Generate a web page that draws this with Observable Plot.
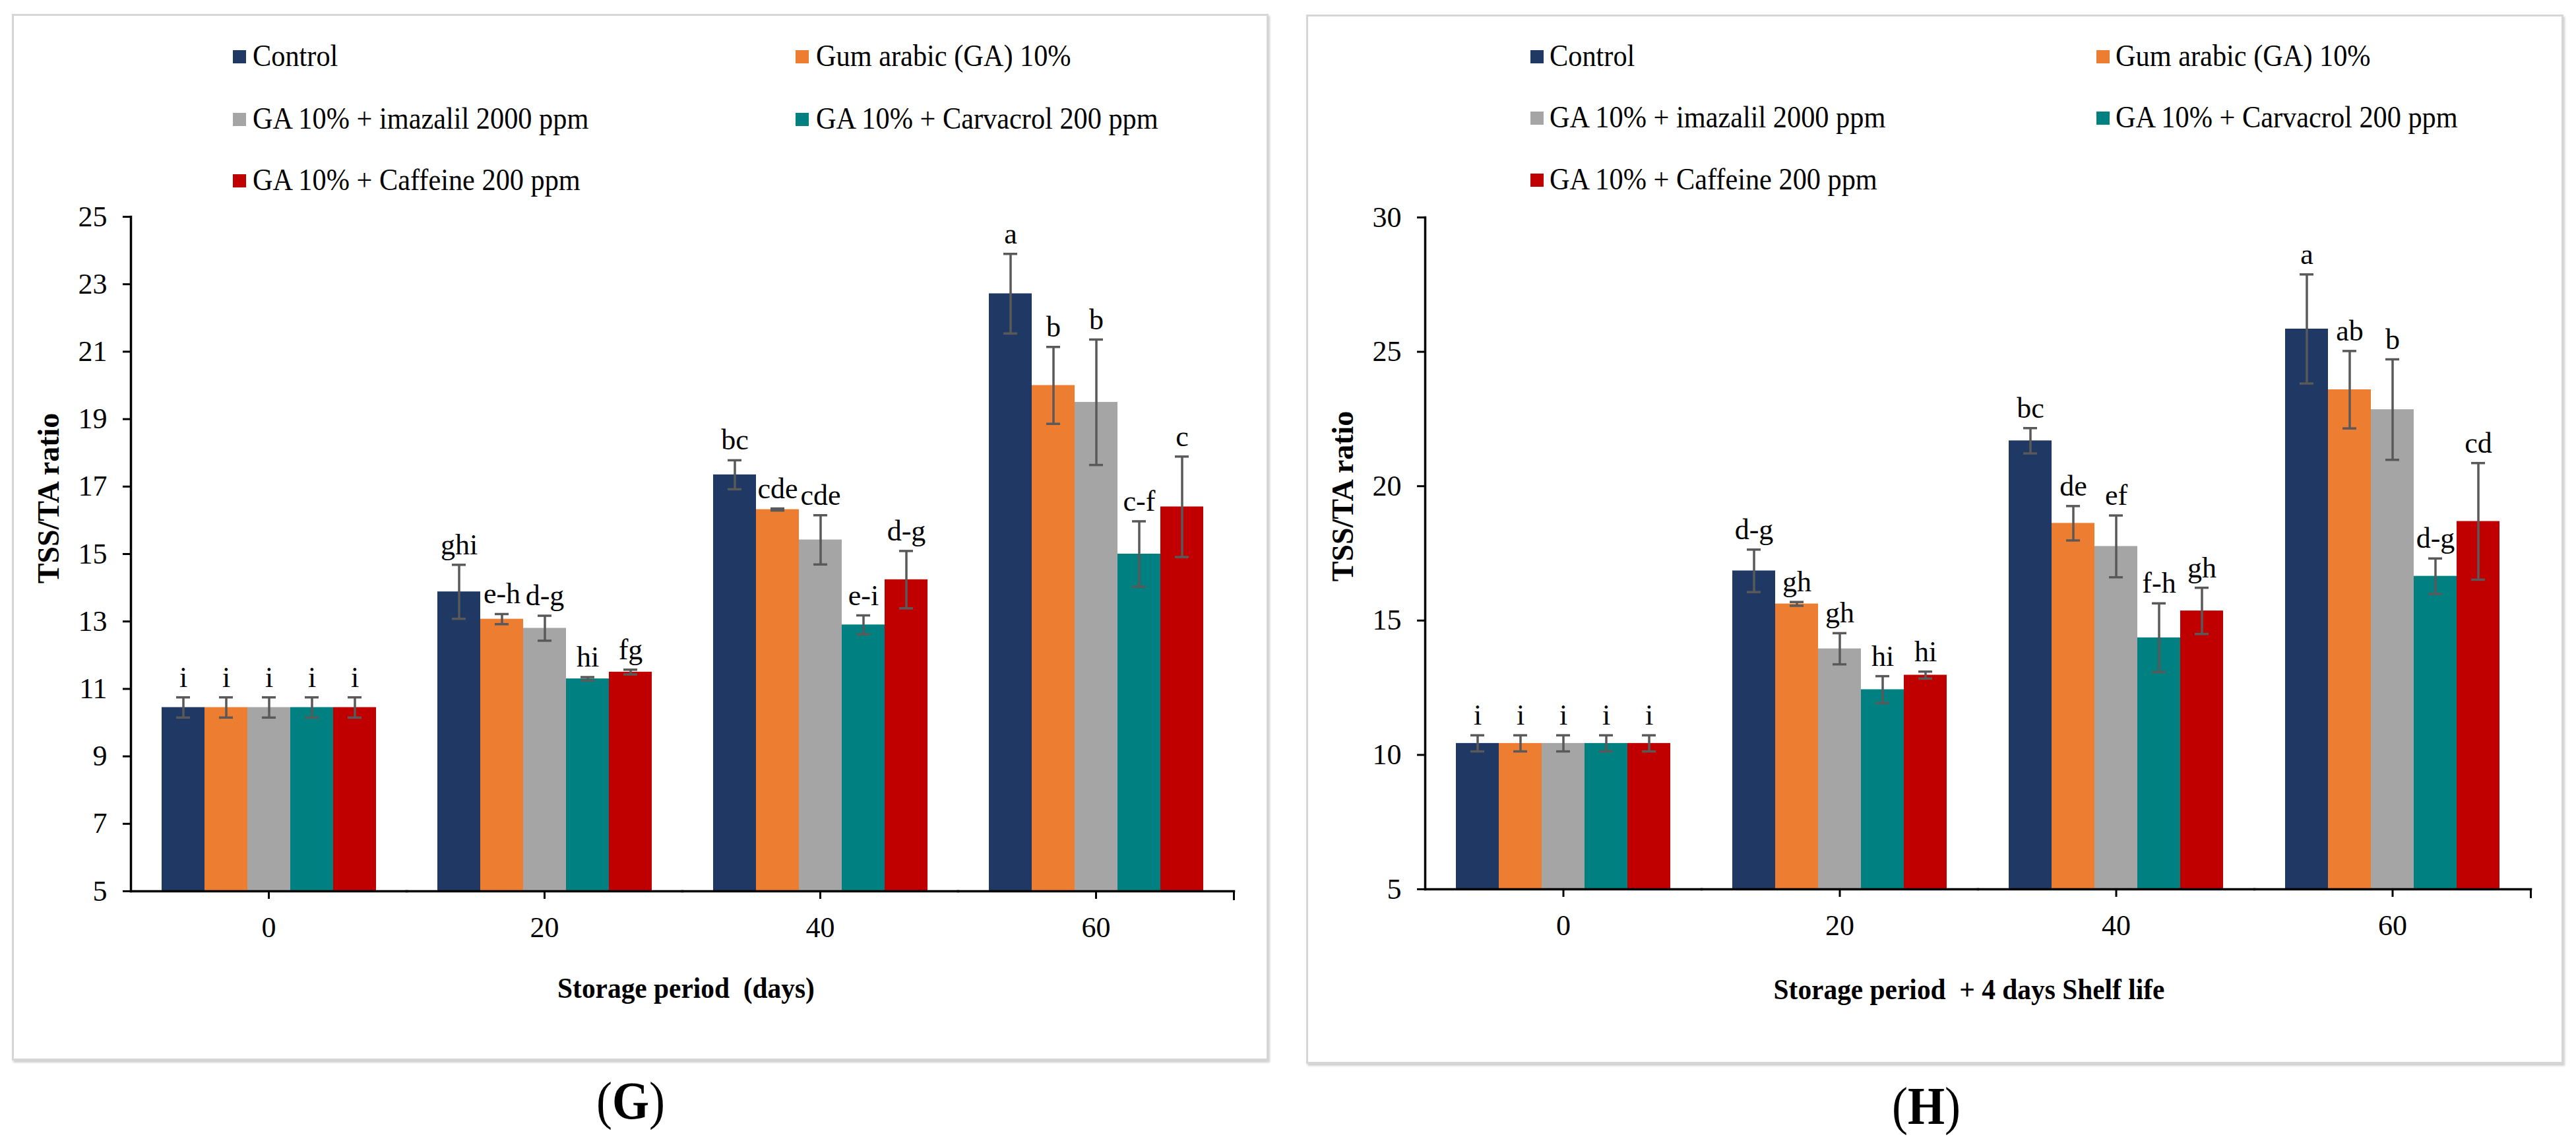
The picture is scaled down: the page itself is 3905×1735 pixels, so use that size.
<!DOCTYPE html>
<html>
<head>
<meta charset="utf-8">
<script src="https://cdn.jsdelivr.net/npm/d3@7"></script>
<script src="https://cdn.jsdelivr.net/npm/@observablehq/plot@0.6"></script>
<style>
  html, body { margin: 0; padding: 0; background: #fff; }
  body { width: 3905px; height: 1735px; position: relative; overflow: hidden; font-family: "Liberation Serif", "Times New Roman", serif; color: #000; }
  .panel { position: absolute; border: 3px solid #d6d6d6; box-shadow: 2px 3px 3px #d0d0d0; box-sizing: border-box; }
  .sw { position: absolute; width: 20px; height: 20px; }
  .lt { position: absolute; font-size: 46px; line-height: 46px; transform: scaleX(0.92); transform-origin: left center; white-space: pre; }
  .ylab { position: absolute; font-size: 46px; font-weight: bold; white-space: pre; transform: translate(-50%, -50%) rotate(-90deg); }
  .xlab { position: absolute; font-size: 45px; font-weight: bold; white-space: pre; transform: translate(-50%, -50%) scaleX(0.92); }
  .cap { position: absolute; font-size: 80px; white-space: pre; transform: translate(-50%, -50%) scaleX(0.9); }
  .plot { position: absolute; }
</style>
</head>
<body>
<div id="root"></div>
<script>
// ---------- data ----------
const treatments = [
  "Control",
  "Gum arabic (GA) 10%",
  "GA 10% + imazalil 2000 ppm",
  "GA 10% + Carvacrol 200 ppm",
  "GA 10% + Caffeine 200 ppm"
];
const colors = ["#203864", "#ED7D31", "#A5A5A5", "#008080", "#C00000"];
const days = ["0", "20", "40", "60"];

// Panel G: storage period (days)
const gControl   = [10.45, 13.88, 17.35, 22.72];
const gGA        = [10.45, 13.07, 16.32, 20.00];
const gImazalil  = [10.45, 12.80, 15.42, 19.50];
const gCarvacrol = [10.45, 11.30, 12.90, 15.00];
const gCaffeine  = [10.45, 11.50, 14.24, 16.40];
const gSdControl   = [0.30, 0.80, 0.43, 1.18];
const gSdGA        = [0.30, 0.15, 0.03, 1.14];
const gSdImazalil  = [0.30, 0.37, 0.73, 1.86];
const gSdCarvacrol = [0.30, 0.05, 0.28, 0.97];
const gSdCaffeine  = [0.30, 0.07, 0.85, 1.49];
const gLetControl   = ["i", "ghi", "bc", "a"];
const gLetGA        = ["i", "e-h", "cde", "b"];
const gLetImazalil  = ["i", "d-g", "cde", "b"];
const gLetCarvacrol = ["i", "hi", "e-i", "c-f"];
const gLetCaffeine  = ["i", "fg", "d-g", "c"];
const gTicks = [5, 7, 9, 11, 13, 15, 17, 19, 21, 23, 25];

// Panel H: storage period + 4 days shelf life
const hControl   = [10.43, 16.85, 21.69, 25.85];
const hGA        = [10.43, 15.62, 18.62, 23.59];
const hImazalil  = [10.43, 13.95, 17.76, 22.85];
const hCarvacrol = [10.43, 12.43, 14.36, 16.65];
const hCaffeine  = [10.43, 12.97, 15.36, 18.69];
const hSdControl   = [0.30, 0.79, 0.47, 2.03];
const hSdGA        = [0.30, 0.07, 0.64, 1.44];
const hSdImazalil  = [0.30, 0.58, 1.15, 1.87];
const hSdCarvacrol = [0.30, 0.50, 1.28, 0.66];
const hSdCaffeine  = [0.30, 0.13, 0.86, 2.17];
const hLetControl   = ["i", "d-g", "bc", "a"];
const hLetGA        = ["i", "gh", "de", "ab"];
const hLetImazalil  = ["i", "gh", "ef", "b"];
const hLetCarvacrol = ["i", "hi", "f-h", "d-g"];
const hLetCaffeine  = ["i", "hi", "gh", "cd"];
const hTicks = [5, 10, 15, 20, 25, 30];

// ---------- helpers ----------
function rowsFor(means, sds, lets) {
  const rows = [];
  treatments.forEach((t, ti) => days.forEach((d, di) => rows.push({
    day: d, treatment: t, mean: means[ti][di], sd: sds[ti][di], letter: lets[ti][di]
  })));
  return rows;
}

function makePlot({rows, yDomain, yTicks, width, height, marginTop, marginLeft}) {
  const err = "#595959";
  const marginBottom = 80, marginRight = 30;
  const innerH = height - marginTop - marginBottom;
  return Plot.plot({
    width, height, marginTop, marginLeft, marginRight, marginBottom,
    style: {fontFamily: "Liberation Serif, Times New Roman, serif", fontSize: "44px", background: "transparent", color: "#000", overflow: "visible"},
    fx: {domain: days, paddingInner: 0, paddingOuter: 0, axis: null, label: null},
    x: {domain: treatments, paddingInner: 0, paddingOuter: 0.705, axis: null, label: null},
    y: {domain: yDomain, axis: null, label: null},
    color: {domain: treatments, range: colors},
    marks: [
      Plot.barY(rows, {fx: "day", x: "treatment", y1: yDomain[0], y2: "mean", fill: "treatment"}),
      Plot.ruleX(rows, {fx: "day", x: "treatment", y1: d => d.mean - d.sd, y2: d => d.mean + d.sd, stroke: err, strokeWidth: 3.5}),
      Plot.tickY(rows, {fx: "day", x: "treatment", y: d => d.mean + d.sd, stroke: err, strokeWidth: 3.5, inset: 22}),
      Plot.tickY(rows, {fx: "day", x: "treatment", y: d => d.mean - d.sd, stroke: err, strokeWidth: 3.5, inset: 22}),
      Plot.text(rows, {fx: "day", x: "treatment", y: d => d.mean + d.sd, text: "letter", dy: -16, lineAnchor: "bottom", fontSize: 44, fill: "#000"}),
      Plot.frame({anchor: "bottom", stroke: "#000", strokeWidth: 3.5}),
      Plot.frame({anchor: "left", facetAnchor: "left", stroke: "#000", strokeWidth: 3.5}),
      // closing tick at the right end of the category axis
      Plot.frame({anchor: "right", facetAnchor: "right", stroke: "#000", strokeWidth: 3, insetTop: innerH, insetBottom: -12}),
      Plot.axisY({ticks: yTicks, tickSize: 12, tickPadding: 24, strokeWidth: 3, fontSize: 44, label: null, tickFormat: d => String(d)}),
      Plot.axisFx({anchor: "bottom", tickSize: 12, tickPadding: 26, strokeWidth: 3, fontSize: 44, label: null})
    ]
  });
}

const root = document.getElementById("root");
function add(html) { root.insertAdjacentHTML("beforeend", html); }

function legend(sqX1, txX1, sqX2, txX2, rowsY) {
  treatments.forEach((t, i) => {
    const col = i % 2, row = Math.floor(i / 2);
    const sx = col === 0 ? sqX1 : sqX2, tx = col === 0 ? txX1 : txX2;
    const cy = rowsY[row];
    add(`<div class="sw" style="left:${sx}px;top:${cy - 10}px;background:${colors[i]}"></div>`);
    add(`<div class="lt" style="left:${tx}px;top:${cy - 24}px">${t}</div>`);
  });
}

// ---------- panel G ----------
add(`<div class="panel" style="left:18px;top:21px;width:1905px;height:1586px"></div>`);
legend(353, 383, 1206, 1237, [86, 181, 274]);
const plotG = makePlot({
  rows: rowsFor([gControl, gGA, gImazalil, gCarvacrol, gCaffeine],
                [gSdControl, gSdGA, gSdImazalil, gSdCarvacrol, gSdCaffeine],
                [gLetControl, gLetGA, gLetImazalil, gLetCarvacrol, gLetCaffeine]),
  yDomain: [5, 25], yTicks: gTicks, width: 1900, height: 1130, marginTop: 28, marginLeft: 198
});
plotG.classList.add("plot");
plotG.style.left = "0px"; plotG.style.top = "300px";
root.appendChild(plotG);
add(`<div class="ylab" style="left:73px;top:755px">TSS/TA ratio</div>`);
add(`<div class="xlab" style="left:1040px;top:1497px">Storage period  (days)</div>`);
add(`<div class="cap" style="left:956px;top:1668px">(<b>G</b>)</div>`);

// ---------- panel H ----------
add(`<div class="panel" style="left:1980px;top:22px;width:1906px;height:1590px"></div>`);
legend(2320, 2349, 3178, 3207, [86, 179, 273]);
const plotH = makePlot({
  rows: rowsFor([hControl, hGA, hImazalil, hCarvacrol, hCaffeine],
                [hSdControl, hSdGA, hSdImazalil, hSdCarvacrol, hSdCaffeine],
                [hLetControl, hLetGA, hLetImazalil, hLetCarvacrol, hLetCaffeine]),
  yDomain: [5, 30], yTicks: hTicks, width: 1906, height: 1127, marginTop: 29, marginLeft: 199
});
plotH.classList.add("plot");
plotH.style.left = "1960px"; plotH.style.top = "300px";
root.appendChild(plotH);
add(`<div class="ylab" style="left:2035px;top:752px">TSS/TA ratio</div>`);
add(`<div class="xlab" style="left:2985px;top:1499px">Storage period  + 4 days Shelf life</div>`);
add(`<div class="cap" style="left:2920px;top:1676px">(<b>H</b>)</div>`);
</script>
</body>
</html>
